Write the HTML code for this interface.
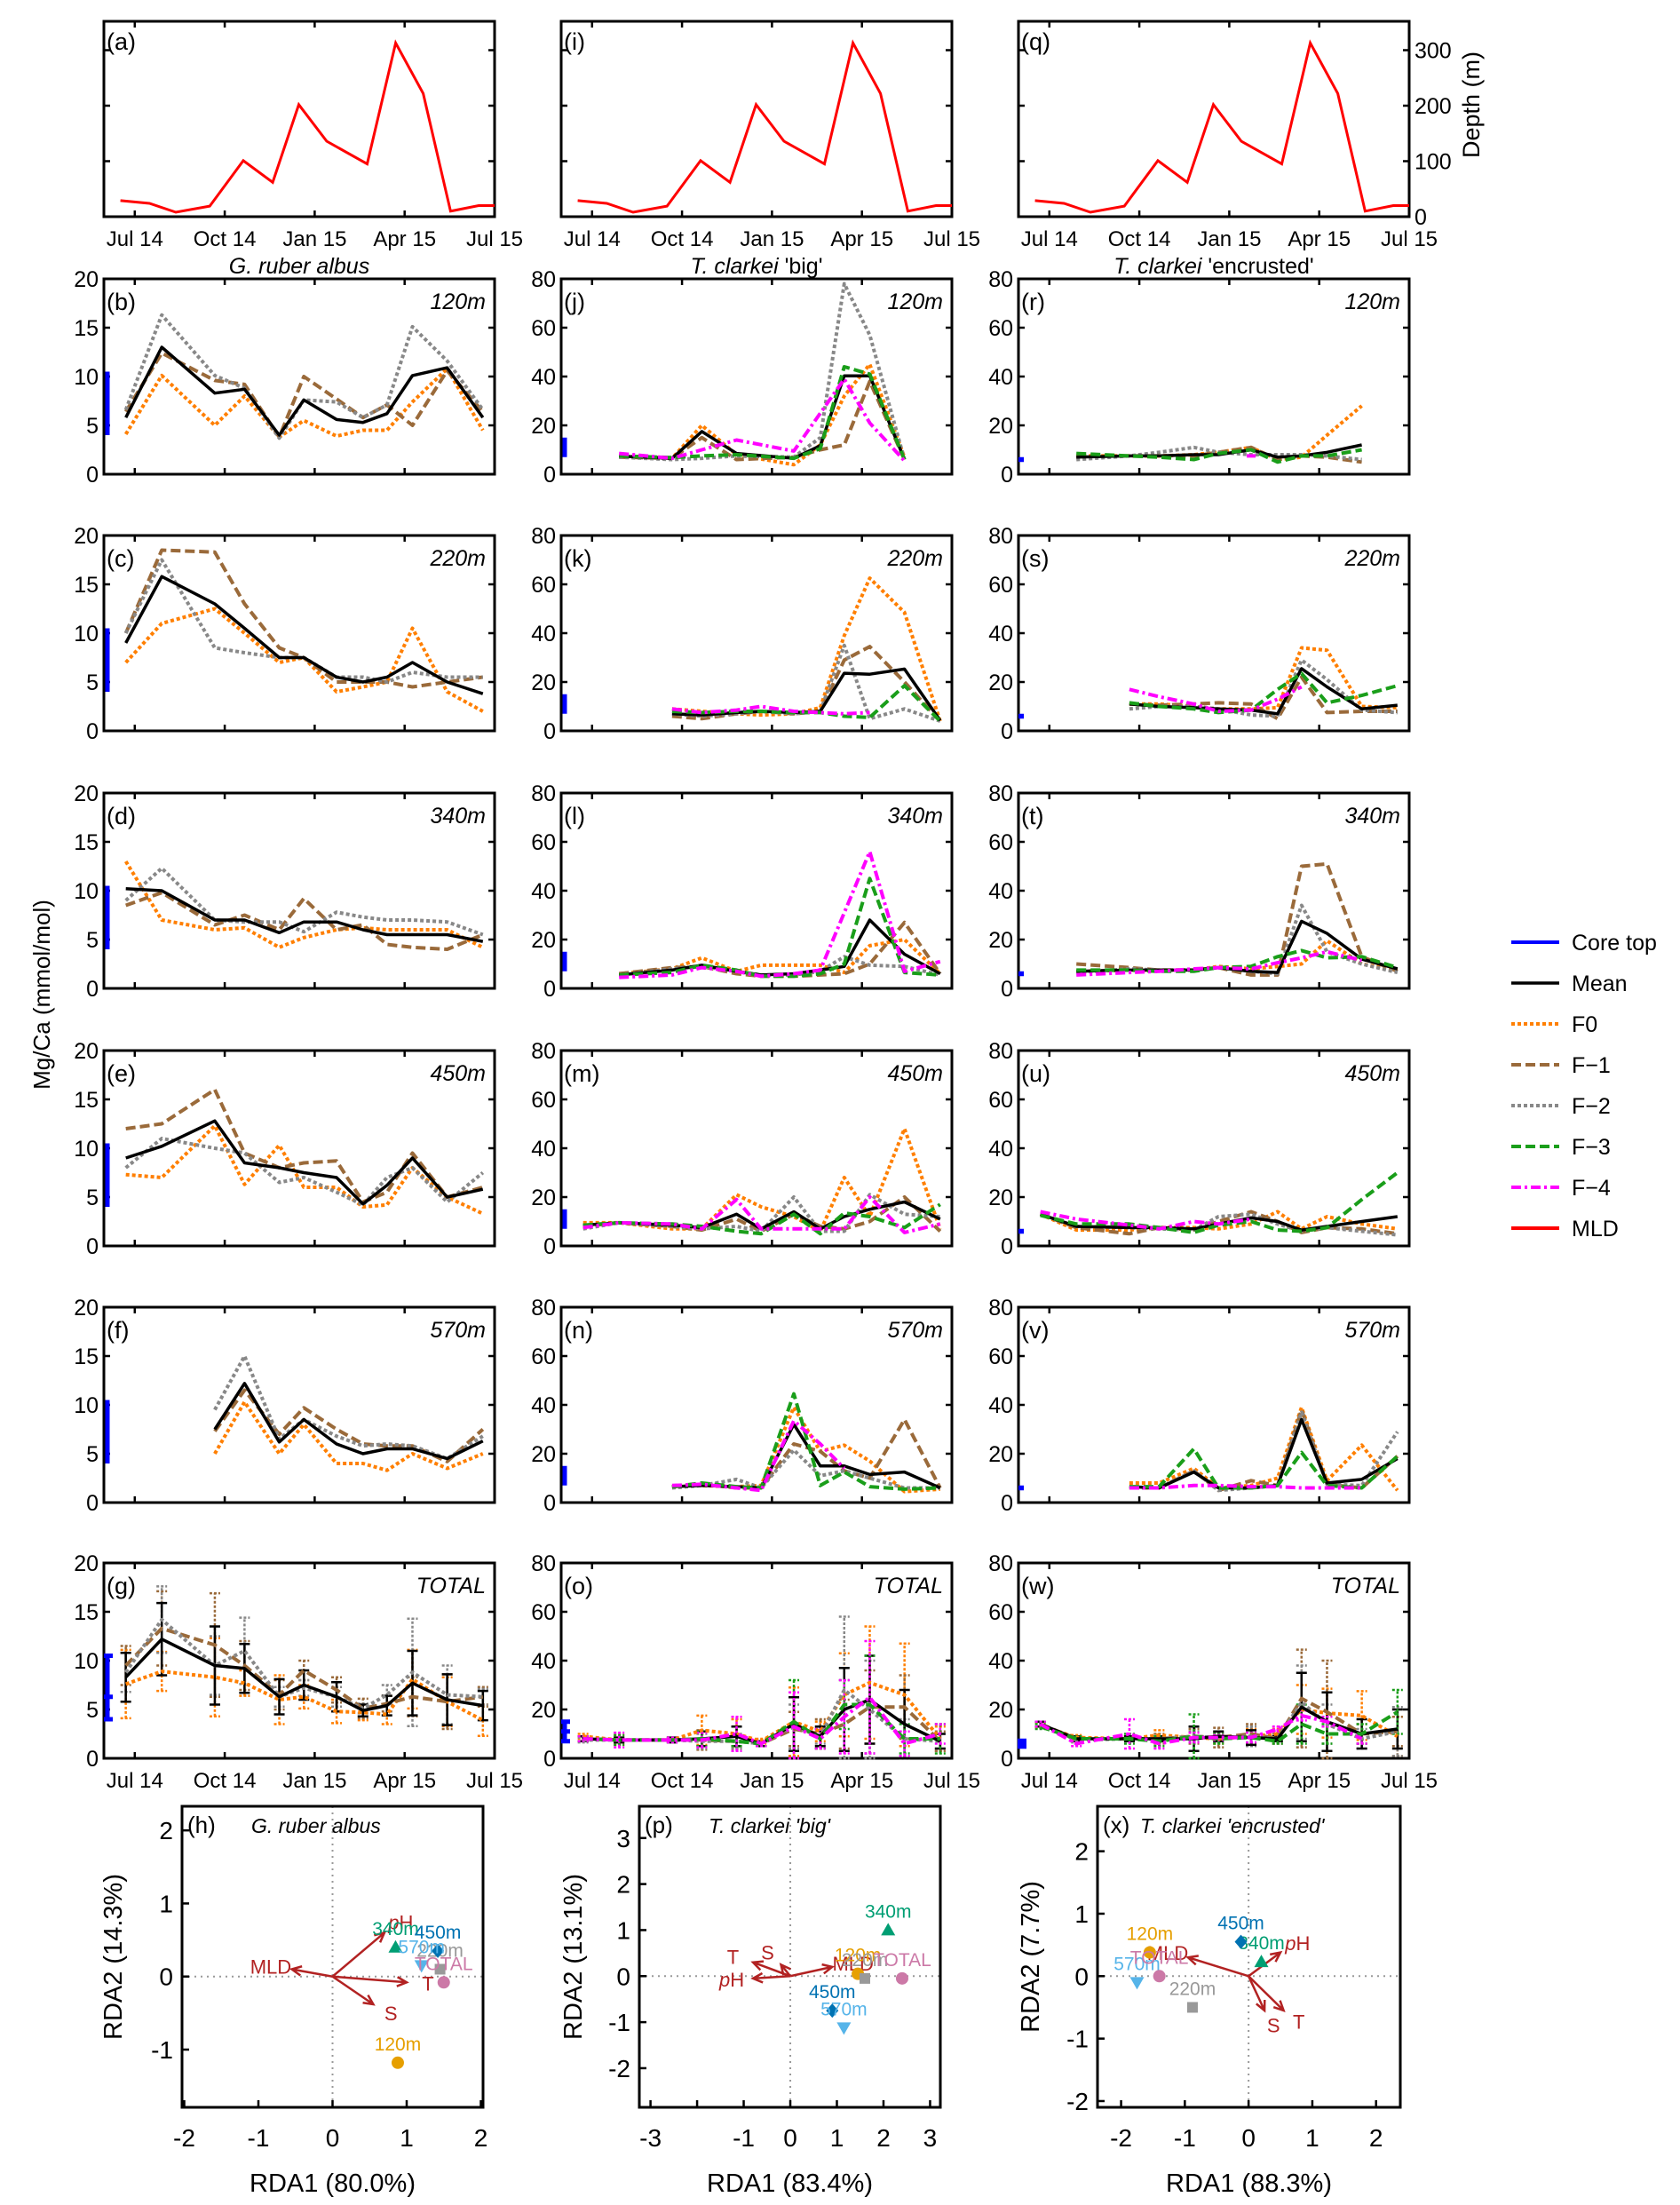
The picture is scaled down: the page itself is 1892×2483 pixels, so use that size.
<!DOCTYPE html>
<html><head><meta charset="utf-8">
<style>
html,body{margin:0;padding:0;background:#fff;}
svg{display:block;font-family:"Liberation Sans",Arial,sans-serif;}
</style></head>
<body>
<svg id="fig" xmlns="http://www.w3.org/2000/svg" width="1892" height="2483" viewBox="0 0 1892 2483">
<rect x="0" y="0" width="1892" height="2483" fill="#fff"/>
</svg>
<script>
const N = null;
// sampling times (months since Jul 2014)
const T = [-0.3, 0.9, 2.67, 3.66, 4.82, 5.64, 6.73, 7.61, 8.41, 9.26, 10.42, 11.61];
const monthTicks = [0, 3, 6, 9, 12];
const monthLabels = ["Jul 14", "Oct 14", "Jan 15", "Apr 15", "Jul 15"];
// MLD
const mldT = [-0.48, 0.49, 1.37, 2.5, 3.62, 4.6, 5.47, 6.4, 7.75, 8.7, 9.62, 10.53, 11.47, 12.0];
const mldD = [29, 24, 8, 19, 101, 62, 202, 136, 95, 313, 222, 10, 20, 20];
const depthTicks = [0, 100, 200, 300];
// G. ruber albus
const bMean=[5.8,13.0,8.3,8.7,4.0,7.6,5.6,5.3,6.2,10.1,10.9,5.8];
const bF0=[4.1,10.1,5.0,8.0,3.8,5.5,3.9,4.5,4.5,7.4,10.8,4.5];
const bF1=[6.4,12.4,9.6,9.2,3.8,10.0,7.7,5.8,7.1,5.0,10.6,6.4];
const bF2=[6.6,16.3,10.1,8.8,3.7,7.6,7.4,5.8,7.1,15.1,11.6,6.6];
const cMean=[9,15.8,13,10.5,7.5,7.5,5.5,5,5.5,7,5,3.8];
const cF0=[7,11,12.5,10,7,7.5,4,4.5,5,10.5,4,2];
const cF1=[10,18.5,18.3,13,8.5,7.5,5,5,5,4.5,5,5.5];
const cF2=[10,17.5,8.5,8,7.5,7.5,5.5,5.5,5,6,5.5,5.5];
const dMean=[10.2,10,7,7,5.7,6.8,6.8,6,5.5,5.5,5.5,4.8];
const dF0=[13,7,6,6.2,4.2,5.2,6,6.2,6,6,6,4.2];
const dF1=[8.5,9.8,6.5,7.5,6,9.2,6,6.5,4.5,4.2,4,5.5];
const dF2=[9,12.3,7,6.8,6.8,5.8,7.8,7.3,7,7,6.8,5.5];
const eMean=[9,10.2,12.8,8.5,8,7.5,7,4.3,6.2,9,5,5.8];
const eF0=[7.3,7,12.3,6.3,10.3,6,6,4,4.2,8,5,3.3];
const eF1=[12,12.5,16,9.5,8,8.5,8.7,4.5,5.5,9.5,5,6];
const eF2=[8,11,10,9.5,6.5,7,5.5,4.2,7,8,4.5,7.5];
const fMean=[N,N,7.5,12.2,6.2,8.5,6,5,5.5,5.5,4.5,6.3];
const fF0=[N,N,5,10.3,5,8,4,4,3.3,5,3.5,5];
const fF1=[N,N,7.3,11.5,7,9.7,7.5,6,5.8,5.8,4.2,7.5];
const fF2=[N,N,9.5,15,6.5,8.5,6.8,5.8,6,5.8,4.5,6.8];
const gMean=[8.3,12.2,9.5,9.2,6.3,7.5,6.3,4.9,5.4,7.7,6,5.4];
const gF0=[7.6,8.9,8.3,7.7,6,6.3,4.8,4.7,4.5,8.1,5.8,3.9];
const gF1=[9.5,13.3,11.6,9.5,6.5,9,7,5.1,5.6,6.3,5.8,6.3];
const gF2=[8.8,14.2,9.5,11,6.3,7.2,6.3,5.1,6.5,8.8,6.5,6.3];
const gMeanErr=[2.5,3.7,4,2.5,1.8,1.5,1.5,0.6,1,3.3,2.6,1.5];
const gF0Err=[3.5,2,4,1.3,2.5,1.2,1.2,0.8,1,3,2.5,1.6];
const gF1Err=[2,3.8,5.3,2.5,1.5,1,1.3,1,0.8,2,2.8,1];
const gF2Err=[2,3.4,3,3.4,1,0.8,1,0.5,1,5.5,3,0.8];
// T. clarkei 'big'
const jMean=[N,7.4,6.5,17.5,8.5,N,6.5,11.7,40.3,40.3,6.1,N];
const jF0=[N,7.4,6.5,20,8,N,3.9,12,32,45,7,N];
const jF1=[N,7,6.5,15,6,N,7,10,12,38,6,N];
const jF2=[N,7,6,6.5,7.5,N,7,15,78,57,6,N];
const jF3=[N,7.5,6.8,7.5,8,N,6.5,10.5,44,41,6,N];
const jF4=[N,8.5,6.5,10,14,N,9.5,25,39,21,5.5,N];
const kMean=[N,N,7,6.5,7.5,8,7.5,8,23.6,23.2,25.3,4.3];
const kF0=[N,N,9,8,7,6.5,7,9.5,39,62.5,48.5,4];
const kF1=[N,N,6,5,7,8,7,8,29,34.5,20,4];
const kF2=[N,N,7,6,7,8,7,8,35,5,9,4];
const kF3=[N,N,8,7.5,8,8,7.5,7.5,6,5.5,18.5,4];
const kF4=[N,N,9,7.5,8.5,10,8,7.5,7,7.5,N,N];
const lMean=[N,5.5,7.5,9.5,7,5.5,6,7.5,9,28,14,6];
const lF0=[N,6,8,12.5,7,9.5,9.5,9.5,6.5,17.5,20,6];
const lF1=[N,6,8.5,9,6,5,5,5.5,6,10,27,6];
const lF2=[N,5.5,8,9,7,5.5,5.5,7,13,9.5,9,5.5];
const lF3=[N,5.5,6.5,9.5,7.5,5,5,6,10,45,6.5,5.5];
const lF4=[N,4.5,5.5,8.5,7,5,6,7.5,31,56,7,11];
const mMean=[8.5,9.5,8.5,7.5,13,7,14,7,12,15,18,11];
const mF0=[9.5,9.5,7,7,21,16,12,6,28,12,48,7];
const mF1=[8,9.5,8,6.5,11,6,13,8,7,10,20,6];
const mF2=[7,9.5,8,7,8,6,20,6,6,21,13,12];
const mF3=[8.5,9.5,9,8,6,5,13,5,13.5,12,7.5,17];
const mF4=[7.5,9.5,9,7,19,7,7,7,7,20,5.5,9];
const nMean=[N,N,6.5,7,6.5,6,32,15,15,11.5,12.5,6];
const nF0=[N,N,6.5,7,6.5,7,39,21,23.5,17,4.5,5.5];
const nF1=[N,N,6.5,7.5,6,6,24,21,13,10,34,6];
const nF2=[N,N,6,7,9.5,6,21.5,11,13,10,6,6];
const nF3=[N,N,6.5,8,6.5,6,44.5,7,12.5,6.5,5.5,6];
const nF4=[N,N,7,7.5,6,5,33.5,24,14,N,N,N];
const oMean=[8,7.5,7.5,8,9,6,14,9,20,24,14,7];
const oF0=[9,7.5,7.5,11.5,10,7,15,11,26,31,26,8];
const oF1=[8,7.5,7.5,7.5,7,6,12,10,14,21,21,7];
const oF2=[7.5,7.5,7.5,7,7,6,13,9,28,20,8,7];
const oF3=[8,7.5,7.5,8,7,6,15,8,22,22,8,8];
const oF4=[8,7.5,7.5,7.5,10,6,13,8,17,25,6,10];
const oMeanErr=[1,1,1,3,4,1,11,4,17,18,14,3];
const oF0Err=[1,2,1,6,6,1,14,4,17,23,21,5];
const oF1Err=[1,1,1,4,3,1,7,6,10,15,13,4];
const oF2Err=[1,1,1,3,3,1,9,3,30,20,8,3];
const oF3Err=[1,2,1,3,2,1,17,4,10,20,6,6];
const oF4Err=[1,3,1,3,7,1,14,4,15,23,5,4];
// T. clarkei 'encrusted'
const rMean=[N,7,7.5,7.5,8,8,10,7,7.5,9,12,N];
const rF0=[N,7.5,7.5,7.5,8,9,11,6,7,16,28,N];
const rF1=[N,7.5,7.5,7.5,7.5,9,11,6,7.5,7,5,N];
const rF2=[N,6,7.5,9,11,9,8,8,8,7.5,6,N];
const rF3=[N,8.5,7.5,7,6,8.5,10,5,7.5,7.5,10,N];
const rF4=[N,N,N,N,N,N,7.5,N,N,N,N,N];
const sMean=[N,N,11,10,9.5,9,8.5,7,25.5,18,9,10.5];
const sF0=[N,N,11,11,10,9,9,9.5,34,33,10,9.5];
const sF1=[N,N,11,10.5,11,11.5,11,5,22,7.5,8,8];
const sF2=[N,N,9,10,10,9,6.5,6,29,21,8.5,7.5];
const sF3=[N,N,11.5,10,9,7.5,8.5,17,23.5,11.5,14.5,18.5];
const sF4=[N,N,17,14,11,8,8.5,13,18,N,N,N];
const tMean=[N,7,7.5,7.5,7.5,8.5,7,6.5,27.5,22.5,12,8];
const tF0=[N,7,7.5,7.5,7.5,9,8,9,10,19.5,10,7.5];
const tF1=[N,10,8.5,7.5,7.5,8.5,5.5,5.5,50,51,13,7];
const tF2=[N,6.5,8,7.5,7.5,8.5,7,6,34,15,10,6.5];
const tF3=[N,7.5,7.5,7,7,8.5,9,13,15.5,12.5,13,8.5];
const tF4=[N,5.5,6.5,7,8,8.5,8,10.5,12.5,15,11.5,N];
const uMean=[13,8,7.5,7.5,7,9,11.5,10,6.5,8,10,12];
const uF0=[13,6.5,6.5,7.5,7.5,7,9,14,7,12,9,7];
const uF1=[13,7.5,5,7.5,6.5,10,14,10,5.5,7.5,7,5];
const uF2=[13,8,7.5,7,6.5,12,13,9,6,7.5,6,4.5];
const uF3=[12.5,9,9,7.5,5.5,8.5,10,6.5,6,7.5,19,30];
const uF4=[14,11,8.5,7,10,9,11,N,N,N,N,N];
const vMean=[N,N,6.5,6,12.5,6,6,7,34,8,9.5,18];
const vF0=[N,N,8,8,14,6,7,10,39,9,23.5,5];
const vF1=[N,N,6,6,13,5,9,7,38,7.5,6,19];
const vF2=[N,N,6,6,13,5,6,7,37,7.5,7,29];
const vF3=[N,N,6.5,6.5,22,6,6,7,20.5,7,6,19];
const vF4=[N,N,6,6,7,7,6.5,6.5,6,6,6,N];
const wMean=[14,8,8,8,8,9,8.5,8,21,15,10,12];
const wF0=[13.5,8.5,8,9.5,8.5,8,9,10,20,18.5,17.5,9];
const wF1=[14,8,8,8,9,8.5,10,8,24.5,19,10,11];
const wF2=[14,7.5,8,8,9,8.5,9,8,23,14,8,11];
const wF3=[13,8,8,7,9,8,8.5,7,14,10,10,19];
const wF4=[14,6,10,6,8.5,8.5,8.5,12,17.5,15,8,N];
const wMeanErr=[1,1,1,1,5,2,3,1,14,12,6,8];
const wF0Err=[1,1,1,2,2,2,3,2,10,10,10,8];
const wF1Err=[1,1,1,2,3,4,4,2,20,21,4,6];
const wF2Err=[1,1,1,1,2,2,4,1,15,8,4,10];
const wF3Err=[1,1,2,2,9,2,2,1,8,4,4,9];
const wF4Err=[1,1,6,2,2,1,2,1,2,2,2,1];
// core-top ranges (lo, hi) per species
const coreTopLo=[4,7,5];
const coreTopHi=[10.5,15,7];
const coreTopMid=[6.3,11,6];
// RDA
const rdaSites=["120m","220m","340m","450m","570m","TOTAL"];
const hSiteX=[0.88,1.45,0.85,1.42,1.2,1.5];
const hSiteY=[-1.18,0.1,0.4,0.35,0.15,-0.08];
const pSiteX=[1.45,1.6,2.1,0.9,1.15,2.4];
const pSiteY=[0.05,-0.05,1.0,-0.75,-1.12,-0.05];
const xSiteX=[-1.55,-0.88,0.2,-0.12,-1.75,-1.4];
const xSiteY=[0.38,-0.5,0.23,0.55,-0.1,0.0];
const rdaVars=["MLD","T","S","pH"];
const hVarX=[-0.55,1.0,0.55,0.7];
const hVarY=[0.1,-0.08,-0.38,0.6];
const pVarX=[0.9,-0.8,-0.2,-0.8];
const pVarY=[0.2,0.3,0.25,-0.05];
const xVarX=[-0.95,0.55,0.25,0.5];
const xVarY=[0.3,-0.55,-0.55,0.38];

const svg=document.getElementById('fig');
const NS="http://www.w3.org/2000/svg";
function mk(tag,attrs,parent){const e=document.createElementNS(NS,tag);for(const k in attrs)e.setAttribute(k,attrs[k]);(parent||svg).appendChild(e);return e;}
function txt(s,x,y,size,anchor,parent,extra){const e=mk('text',Object.assign({x:x,y:y,'font-size':size,'text-anchor':anchor||'start',fill:'#000'},extra||{}),parent);e.textContent=s;return e;}

const colLeft=[117,632,1147], PW=440;
const rowTop=[24,314,603,893,1183,1472,1760], PH=220;
const M0=-1.03, M1=12;
const STY={
 mean:{c:'#000',d:'',w:3.5},
 f0:{c:'#FF7F00',d:'4 3',w:4},
 f1:{c:'#9A6A3A',d:'11 5',w:4},
 f2:{c:'#888888',d:'4 3',w:4},
 f3:{c:'#1A9E1A',d:'11 5',w:4},
 f4:{c:'#FF00FF',d:'11 4 3 4',w:4}
};

function panelFrame(g,L,Tp,ymax,ystep,showLeftLabels,showX){
  const ax=mk('rect',{x:L,y:Tp,width:PW,height:PH,fill:'none',stroke:'#000','stroke-width':3},g);
  
  
  const xs=m=>L+(m-M0)/(M1-M0)*PW;
  monthTicks.forEach((m,i)=>{
    const x=xs(m);
    mk('line',{x1:x,y1:Tp,x2:x,y2:Tp+7,stroke:'#000','stroke-width':2.5},g);
    mk('line',{x1:x,y1:Tp+PH,x2:x,y2:Tp+PH-7,stroke:'#000','stroke-width':2.5},g);
    if(showX){const t=txt(monthLabels[i],x,Tp+PH+33,24,'middle',g);
      
      }
  });
  if(ymax){
    for(let v=0;v<=ymax+1e-9;v+=ystep){
      const y=Tp+PH-v/ymax*PH;
      mk('line',{x1:L,y1:y,x2:L+7,y2:y,stroke:'#000','stroke-width':2.5},g);
      mk('line',{x1:L+PW,y1:y,x2:L+PW-7,y2:y,stroke:'#000','stroke-width':2.5},g);
      if(showLeftLabels){const t=txt(String(v),L-6,y+9,25,'end',g);
        
        }
    }
  }
  return xs;
}

function drawSeries(g,xs,ys,vals,sty,name){
  const s=[];
  vals.forEach((v,i)=>{if(v!==null)s.push([xs(T[i]),ys(v)]);});
  if(!s.length)return;
  let d;
  if(s.length===1){d='M'+(s[0][0]-5)+','+s[0][1]+'L'+(s[0][0]+5)+','+s[0][1];}
  else d='M'+s.map(p=>p[0].toFixed(1)+','+p[1].toFixed(1)).join('L');
  const p=mk('path',{d:d,fill:'none',stroke:sty.c,'stroke-width':sty.w,'stroke-dasharray':sty.d,'stroke-linejoin':'round'},g);
  
  
}
function drawErr(g,xs,ys,vals,errs,sty,name){
  vals.forEach((v,i)=>{
    if(v===null)return;
    const x=xs(T[i]),y1=ys(Math.max(0,v-errs[i])),y2=ys(v+errs[i]);
    const e=mk('path',{d:`M${x},${y1}L${x},${y2}M${x-6},${y1}L${x+6},${y1}M${x-6},${y2}L${x+6},${y2}`,fill:'none',stroke:sty.c,'stroke-width':2.5,'stroke-dasharray':sty.d?'3 2':''},g);
    
    
  });
}

const letters=[["a","b","c","d","e","f","g"],["i","j","k","l","m","n","o"],["q","r","s","t","u","v","w"]];
const depthNames=["120m","220m","340m","450m","570m","TOTAL"];
const panelSeries=[
 [[bMean,bF0,bF1,bF2],[cMean,cF0,cF1,cF2],[dMean,dF0,dF1,dF2],[eMean,eF0,eF1,eF2],[fMean,fF0,fF1,fF2],[gMean,gF0,gF1,gF2]],
 [[jMean,jF0,jF1,jF2,jF3,jF4],[kMean,kF0,kF1,kF2,kF3,kF4],[lMean,lF0,lF1,lF2,lF3,lF4],[mMean,mF0,mF1,mF2,mF3,mF4],[nMean,nF0,nF1,nF2,nF3,nF4],[oMean,oF0,oF1,oF2,oF3,oF4]],
 [[rMean,rF0,rF1,rF2,rF3,rF4],[sMean,sF0,sF1,sF2,sF3,sF4],[tMean,tF0,tF1,tF2,tF3,tF4],[uMean,uF0,uF1,uF2,uF3,uF4],[vMean,vF0,vF1,vF2,vF3,vF4],[wMean,wF0,wF1,wF2,wF3,wF4]]
];
const panelErrs=[[gMeanErr,gF0Err,gF1Err,gF2Err],[oMeanErr,oF0Err,oF1Err,oF2Err,oF3Err,oF4Err],[wMeanErr,wF0Err,wF1Err,wF2Err,wF3Err,wF4Err]];
const keys=["mean","f0","f1","f2","f3","f4"];
const seriesNames=["mean-line","f0-line","f1-line","f2-line","f3-line","f4-line"];
const titles=[['G. ruber albus',''],['T. clarkei',' \'big\''],['T. clarkei',' \'encrusted\'']];

for(let c=0;c<3;c++){
  const L=colLeft[c];
  const ga=mk('g',{});
  
  
  const Tp=rowTop[0];
  const xs=panelFrame(ga,L,Tp,0,0,false,true);
  const ysD=v=>Tp+PH-v/352*PH;
  depthTicks.forEach(v=>{
    const y=ysD(v);
    mk('line',{x1:L,y1:y,x2:L+7,y2:y,stroke:'#000','stroke-width':2.5},ga);
    mk('line',{x1:L+PW,y1:y,x2:L+PW-7,y2:y,stroke:'#000','stroke-width':2.5},ga);
    if(c===2){const t=txt(String(v),L+PW+6,y+9,25,'start',ga);
      
      }
  });
  const mp=mk('path',{d:'M'+mldT.map((m,i)=>xs(m).toFixed(1)+','+ysD(mldD[i]).toFixed(1)).join('L'),fill:'none',stroke:'#FF0000','stroke-width':3},ga);
  
  
  const la=txt('('+letters[c][0]+')',L+3,Tp+32,27,'start',ga);
  
  
  const tt=mk('text',{x:L+PW/2,y:308,'font-size':25,'text-anchor':'middle'});
  
  
  const ts1=mk('tspan',{'font-style':'italic'},tt);ts1.textContent=titles[c][0];
  if(titles[c][1]){const ts2=mk('tspan',{},tt);ts2.textContent=titles[c][1];}
  const ymax=c===0?20:80, ystep=c===0?5:20;
  for(let r=1;r<7;r++){
    const g=mk('g',{});
    
    
    const Tr=rowTop[r];
    const xr=panelFrame(g,L,Tr,ymax,ystep,true,r===6);
    const ys=v=>Tr+PH-v/ymax*PH;
    const cx=L+(c===2?3:4);
    const ct=mk('path',{d:r===6?`M${cx},${ys(coreTopLo[c])}L${cx},${ys(coreTopHi[c])}M${cx-4},${ys(coreTopLo[c])}L${cx+6},${ys(coreTopLo[c])}M${cx-4},${ys(coreTopHi[c])}L${cx+6},${ys(coreTopHi[c])}M${cx-4},${ys(coreTopMid[c])}L${cx+6},${ys(coreTopMid[c])}`:`M${cx},${ys(coreTopLo[c])}L${cx},${ys(coreTopHi[c])}`,stroke:'#0000FF','stroke-width':c===2?6:5,fill:'none'},g);
    
    
    const ser=panelSeries[c][r-1];
    const order=c===0?[1,2,3,0]:[1,2,3,0,4,5];
    if(r===6){
      order.forEach(k=>drawErr(g,xr,ys,ser[k],panelErrs[c][k],STY[keys[k]],seriesNames[k].replace('line','errorbar')));
    }
    order.forEach(k=>drawSeries(g,xr,ys,ser[k],STY[keys[k]],seriesNames[k]));
    const lt=txt('('+letters[c][r]+')',L+3,Tr+35,27,'start',g);
    
    
    const dn=txt(depthNames[r-1],L+PW-10,Tr+34,25,'end',g,{'font-style':'italic'});
    
    
  }
}
const yl=txt('Mg/Ca (mmol/mol)',0,0,26,'middle',svg,{transform:'translate(56,1120) rotate(-90)'});


const dl=txt('Depth (m)',0,0,27,'middle',svg,{transform:'translate(1666,118) rotate(-90)'});



const legNames=["Core top","Mean","F0","F\u22121","F\u22122","F\u22123","F\u22124","MLD"];
const legSty=[{c:'#0000FF',d:'',w:4},STY.mean,STY.f0,STY.f1,STY.f2,STY.f3,STY.f4,{c:'#FF0000',d:'',w:4}];
const lg=mk('g',{});


legNames.forEach((n,i)=>{
  const y=1061+i*46;
  const ln=mk('line',{x1:1702,y1:y,x2:1756,y2:y,stroke:legSty[i].c,'stroke-width':legSty[i].w,'stroke-dasharray':legSty[i].d},lg);
  
  
  const t=txt(n,1770,y+9,25,'start',lg);
  
  
});

const siteCol=['#E69F00','#999999','#009E73','#0072B2','#56B4E9','#CC79A7'];
const siteShape=['circle','square','tri','diamond','dtri','circle'];
const arrowCol='#B22222';
const rdaCfg=[
 {L:205,R:544,x0:-2.03,x1:2.03,y0:-1.79,y1:2.33,xt:[-2,-1,0,1,2],xl:[-2,-1,0,1,2],yt:[-1,0,1,2],sx:hSiteX,sy:hSiteY,vx:hVarX,vy:hVarY,letter:'(h)',title:['G. ruber albus',''],xlab:'RDA1 (80.0%)',ylab:'RDA2 (14.3%)',ylx:137},
 {L:720,R:1059,x0:-3.24,x1:3.22,y0:-2.85,y1:3.69,xt:[-3,-2,-1,0,1,2,3],xl:[-3,-1,0,1,2,3],yt:[-2,-1,0,1,2,3],sx:pSiteX,sy:pSiteY,vx:pVarX,vy:pVarY,letter:'(p)',title:['T. clarkei',' \'big\''],xlab:'RDA1 (83.4%)',ylab:'RDA2 (13.1%)',ylx:655},
 {L:1236,R:1577,x0:-2.37,x1:2.38,y0:-2.1,y1:2.72,xt:[-2,-1,0,1,2],xl:[-2,-1,0,1,2],yt:[-2,-1,0,1,2],sx:xSiteX,sy:xSiteY,vx:xVarX,vy:xVarY,letter:'(x)',title:['T. clarkei',' \'encrusted\''],xlab:'RDA1 (88.3%)',ylab:'RDA2 (7.7%)',ylx:1170}
];
const RT=2034,RB=2373;
rdaCfg.forEach((cf,pi)=>{
  const g=mk('g',{});
  
  
  const X=v=>cf.L+(v-cf.x0)/(cf.x1-cf.x0)*(cf.R-cf.L);
  const Y=v=>RB-(v-cf.y0)/(cf.y1-cf.y0)*(RB-RT);
  mk('line',{x1:cf.L,y1:Y(0),x2:cf.R,y2:Y(0),stroke:'#999','stroke-width':2,'stroke-dasharray':'2 5'},g);
  mk('line',{x1:X(0),y1:RT,x2:X(0),y2:RB,stroke:'#999','stroke-width':2,'stroke-dasharray':'2 5'},g);
  const fr=mk('rect',{x:cf.L,y:RT,width:cf.R-cf.L,height:RB-RT,fill:'none',stroke:'#000','stroke-width':3},g);
  
  
  cf.xt.forEach(v=>{mk('line',{x1:X(v),y1:RB,x2:X(v),y2:RB-8,stroke:'#000','stroke-width':2.5},g);
    if(cf.xl.indexOf(v)>=0){const t=txt(String(v),X(v),RB+44,28,'middle',g);
      
      }});
  cf.yt.forEach(v=>{mk('line',{x1:cf.L,y1:Y(v),x2:cf.L+8,y2:Y(v),stroke:'#000','stroke-width':2.5},g);
    const t=txt(String(v),cf.L-10,Y(v)+10,28,'end',g);
    
    });
  const xl=txt(cf.xlab,(cf.L+cf.R)/2,2468,29,'middle',g);
  
  
  const yl2=txt(cf.ylab,0,0,29,'middle',g,{transform:`translate(${cf.ylx},${(RT+RB)/2}) rotate(-90)`});
  
  
  const lt=txt(cf.letter,cf.L+6,RT+30,26,'start',g);
  
  
  const tt=mk('text',{x:cf.L+(pi===2?48:78),y:RT+30,'font-size':23},g);
  
  
  const s1=mk('tspan',{'font-style':'italic'},tt);s1.textContent=cf.title[0]+(pi>0?cf.title[1]:'');
  rdaVars.forEach((n,i)=>{
    const x0=X(0),y0=Y(0),x1=X(cf.vx[i]),y1=Y(cf.vy[i]);
    const a=Math.atan2(y1-y0,x1-x0),h=12;
    const d=`M${x0},${y0}L${x1},${y1}M${x1-h*Math.cos(a-0.45)},${y1-h*Math.sin(a-0.45)}L${x1},${y1}L${x1-h*Math.cos(a+0.45)},${y1-h*Math.sin(a+0.45)}`;
    const ar=mk('path',{d:d,fill:'none',stroke:arrowCol,'stroke-width':2.5},g);
    
    
    const lx=x1+Math.cos(a)*24, ly=y1+Math.sin(a)*18+8;
    const t=txt('',lx,ly,22,'middle',g,{fill:arrowCol});
    if(n==='pH'){const p1=mk('tspan',{'font-style':'italic'},t);p1.textContent='p';const p2=mk('tspan',{},t);p2.textContent='H';}
    else t.textContent=n;
    
    
  });
  rdaSites.forEach((n,i)=>{
    const x=X(cf.sx[i]),y=Y(cf.sy[i]),col=siteCol[i],s=siteShape[i];
    let m;
    if(s==='circle')m=mk('circle',{cx:x,cy:y,r:7,fill:col},g);
    else if(s==='square')m=mk('rect',{x:x-6,y:y-6,width:12,height:12,fill:col},g);
    else if(s==='tri')m=mk('path',{d:`M${x},${y-8}L${x+8},${y+6}L${x-8},${y+6}Z`,fill:col},g);
    else if(s==='dtri')m=mk('path',{d:`M${x},${y+8}L${x+8},${y-6}L${x-8},${y-6}Z`,fill:col},g);
    else m=mk('path',{d:`M${x},${y-8}L${x+7},${y}L${x},${y+8}L${x-7},${y}Z`,fill:col},g);
    
    
    const t=txt(n,x,y-14,21,'middle',g,{fill:col});
    
    
  });
});
</script>
</body></html>
